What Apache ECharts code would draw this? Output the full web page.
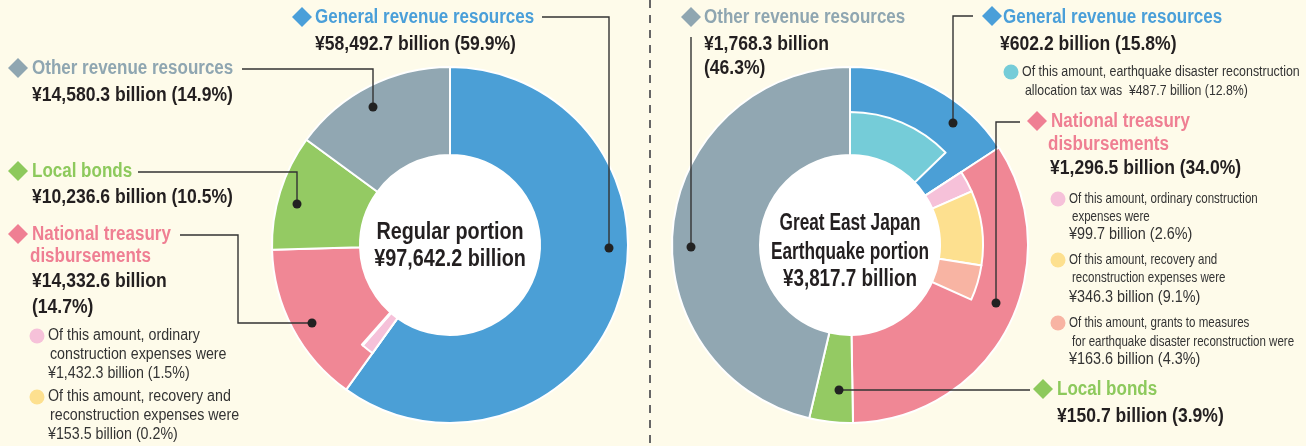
<!DOCTYPE html>
<html>
<head>
<meta charset="utf-8">
<script src="https://cdn.jsdelivr.net/npm/echarts@6/dist/echarts.min.js"></script>
<style>
  html, body { margin: 0; padding: 0; background: #fefbea; }
  #main { width: 1306px; height: 446px; }
</style>
</head>
<body>
<div id="main"></div>
<script>
// values in ¥ billion
const categories = ['General revenue resources', 'National treasury disbursements', 'Local bonds', 'Other revenue resources'];
const regularValues = [58492.7, 14332.6, 10236.6, 14580.3];
const regularSubNames = ['Ordinary construction expenses', 'Recovery and reconstruction expenses'];
const regularSubValues = [1432.3, 153.5];
const quakeValues = [602.2, 1296.5, 150.7, 1768.3];
const quakeAllocTax = 487.7;
const quakeSubNames = ['Ordinary construction expenses', 'Recovery and reconstruction expenses', 'Grants for earthquake disaster reconstruction'];
const quakeSubValues = [99.7, 346.3, 163.6];

const COL = { blue: '#4b9fd6', red: '#f08795', green: '#94ca63', grey: '#91a7b2',
  pink: '#f6c1d9', yellow: '#fde08f', salmon: '#f8b4a3', cyan: '#75ccd8' };
const mainColors = [COL.blue, COL.red, COL.green, COL.grey];
const TXT = { blue: '#4a9fd9', red: '#ef7f93', green: '#8dc95c', grey: '#8fa6b1' };
const FONT = "'Liberation Sans', Arial, sans-serif";

const sum = a => a.reduce((s, v) => s + v, 0);
const regTotal = sum(regularValues);
const quakeTotal = sum(quakeValues);
const yen = v => '¥' + v.toLocaleString('en-US', { minimumFractionDigits: 1, maximumFractionDigits: 1 });
const pct = (v, t) => '(' + (v / t * 100).toFixed(1) + '%)';
const full = (v, t) => yen(v) + ' billion ' + pct(v, t);

let myChart = echarts.init(document.getElementById('main'), null, { renderer: 'canvas' });

function ring(center, values) {
  return {
    type: 'pie', center: center, radius: [90, 178], silent: true, animation: false,
    label: { show: false }, labelLine: { show: false },
    itemStyle: { borderColor: '#fff', borderWidth: 2 },
    data: values.map((v, i) => ({ name: categories[i], value: v, itemStyle: { color: mainColors[i] } }))
  };
}
function inner(center, data) {
  return {
    type: 'pie', center: center, radius: [90, 133], silent: true, animation: false,
    label: { show: false }, labelLine: { show: false },
    data: data
  };
}
function hole(center) {
  return {
    type: 'pie', center: center, radius: [0, 90], silent: true, animation: false,
    label: { show: false }, labelLine: { show: false },
    data: [{ value: 1, itemStyle: { color: '#fff' } }]
  };
}
const blank = v => ({ value: v, itemStyle: { color: 'transparent', borderWidth: 0 } });
const piece = (name, v, c) => ({ name: name, value: v, itemStyle: { color: c, borderColor: '#fff', borderWidth: 2 } });

const regInner = [
  blank(regularValues[0]),
  piece(regularSubNames[0], regularSubValues[0], COL.pink),
  piece(regularSubNames[1], regularSubValues[1], COL.yellow),
  blank(regTotal - regularValues[0] - sum(regularSubValues))
];
const quakeInner = [
  piece('Earthquake disaster reconstruction allocation tax', quakeAllocTax, COL.cyan),
  blank(quakeValues[0] - quakeAllocTax),
  piece(quakeSubNames[0], quakeSubValues[0], COL.pink),
  piece(quakeSubNames[1], quakeSubValues[1], COL.yellow),
  piece(quakeSubNames[2], quakeSubValues[2], COL.salmon),
  blank(quakeTotal - quakeValues[0] - sum(quakeSubValues))
];

// annotation helpers (text is condensed with scaleX to look like the narrow original)
const g = [];
const STY = {
  title: { size: 20, sx: 0.85, weight: 'bold' },
  value: { size: 19.5, sx: 0.9, weight: 'bold' },
  center: { size: 23, sx: 0.86, weight: 'bold' },
  centerN: { size: 23, sx: 0.75, weight: 'bold' },
  centerV: { size: 23, sx: 0.82, weight: 'bold' },
  noteL: { size: 16, sx: 0.89, weight: 'normal' },
  noteR: { size: 15, sx: 0.77, weight: 'normal' },
  noteV: { size: 16, sx: 0.9, weight: 'normal' },
  noteC: { size: 15.5, sx: 0.8, weight: 'normal' },
  noteC2: { size: 15, sx: 0.82, weight: 'normal' }
};
function txt(x, y, text, kind, color, align) {
  const s = STY[kind];
  g.push({ type: 'text', x: x, y: y, scaleX: s.sx, z: 100, silent: true, style: {
    text: text, fill: color || '#231f20', font: s.weight + ' ' + s.size + 'px ' + FONT,
    textAlign: align || 'left', textVerticalAlign: 'middle' } });
}
function diamond(x, y, color) {
  g.push({ type: 'polygon', z: 100, silent: true, shape: { points: [[x, y - 10], [x + 10, y], [x, y + 10], [x - 10, y]] }, style: { fill: color } });
}
function bullet(x, y, color) {
  g.push({ type: 'circle', z: 100, silent: true, shape: { cx: x, cy: y, r: 7.5 }, style: { fill: color } });
}
function leader(points) {
  g.push({ type: 'polyline', z: 100, silent: true, shape: { points: points }, style: { stroke: '#333', lineWidth: 1.4, fill: null } });
  const p = points[points.length - 1];
  g.push({ type: 'circle', z: 101, silent: true, shape: { cx: p[0], cy: p[1], r: 4.5 }, style: { fill: '#222' } });
}
const NOTE = '#333';

// separator
g.push({ type: 'line', z: 100, silent: true, shape: { x1: 650, y1: 0, x2: 650, y2: 446 }, style: { stroke: '#666', lineWidth: 2, lineDash: [8, 7] } });

// ---- left: regular portion
diamond(302, 17, TXT.blue); txt(315, 17, categories[0], 'title', TXT.blue);
txt(315, 45, full(regularValues[0], regTotal), 'value');
leader([[542, 17], [609, 17], [609, 248]]);

diamond(18, 68, TXT.grey); txt(32, 68, categories[3], 'title', TXT.grey);
txt(32, 96, full(regularValues[3], regTotal), 'value');
leader([[242, 69], [373, 69], [373, 107]]);

diamond(18, 171, TXT.green); txt(32, 171, categories[2], 'title', TXT.green);
txt(32, 198, full(regularValues[2], regTotal), 'value');
leader([[138, 172], [297, 172], [297, 204]]);

diamond(18, 234, TXT.red); txt(32, 234, 'National treasury', 'title', TXT.red);
txt(30, 256, 'disbursements', 'title', TXT.red);
txt(32, 282, yen(regularValues[1]) + ' billion', 'value');
txt(32, 308, pct(regularValues[1], regTotal), 'value');
leader([[180, 235], [238, 235], [238, 323], [312, 323]]);

bullet(37, 336, COL.pink);
txt(48, 336, 'Of this amount, ordinary', 'noteL', NOTE);
txt(50, 355, 'construction expenses were', 'noteL', NOTE);
txt(48, 374, full(regularSubValues[0], regTotal), 'noteL', NOTE);
bullet(37, 397, COL.yellow);
txt(48, 397, 'Of this amount, recovery and', 'noteL', NOTE);
txt(50, 416, 'reconstruction expenses were', 'noteL', NOTE);
txt(48, 435, full(regularSubValues[1], regTotal), 'noteL', NOTE);

txt(450, 233, 'Regular portion', 'center', null, 'center');
txt(450, 260, yen(regTotal) + ' billion', 'center', null, 'center');

// ---- right: Great East Japan Earthquake portion
diamond(691, 17, TXT.grey); txt(704, 17, categories[3], 'title', TXT.grey);
txt(704, 45, yen(quakeValues[3]) + ' billion', 'value');
txt(704, 69, pct(quakeValues[3], quakeTotal), 'value');
leader([[691, 37], [691, 247]]);

diamond(992, 16, TXT.blue); txt(1003, 17, categories[0], 'title', TXT.blue);
txt(1000, 45, full(quakeValues[0], quakeTotal), 'value');
leader([[973, 16], [953, 16], [953, 123]]);
bullet(1011, 72, COL.cyan);
txt(1022, 72, 'Of this amount, earthquake disaster reconstruction', 'noteC', NOTE);
txt(1025, 91, 'allocation tax was  ' + full(quakeAllocTax, quakeTotal), 'noteC2', NOTE);

diamond(1037, 121, TXT.red); txt(1051, 121, 'National treasury', 'title', TXT.red);
txt(1048, 144, 'disbursements', 'title', TXT.red);
txt(1050, 169, full(quakeValues[1], quakeTotal), 'value');
leader([[1020, 122], [996, 122], [996, 303]]);

bullet(1058, 199, COL.pink);
txt(1069, 199, 'Of this amount, ordinary construction', 'noteR', NOTE);
txt(1072, 217, 'expenses were', 'noteR', NOTE);
txt(1069, 235, full(quakeSubValues[0], quakeTotal), 'noteV', NOTE);
bullet(1058, 260, COL.yellow);
txt(1069, 260, 'Of this amount, recovery and', 'noteR', NOTE);
txt(1072, 278, 'reconstruction expenses were', 'noteR', NOTE);
txt(1069, 298, full(quakeSubValues[1], quakeTotal), 'noteV', NOTE);
bullet(1058, 323, COL.salmon);
txt(1069, 323, 'Of this amount, grants to measures', 'noteR', NOTE);
txt(1072, 342, 'for earthquake disaster reconstruction were', 'noteR', NOTE);
txt(1069, 360, full(quakeSubValues[2], quakeTotal), 'noteV', NOTE);

diamond(1043, 389, TXT.green); txt(1057, 389, categories[2], 'title', TXT.green);
txt(1057, 417, full(quakeValues[2], quakeTotal), 'value');
leader([[1030, 390], [839, 390]]);

txt(850, 224, 'Great East Japan', 'centerN', null, 'center');
txt(850, 253, 'Earthquake portion', 'centerN', null, 'center');
txt(850, 280, yen(quakeTotal) + ' billion', 'centerV', null, 'center');

let option = {
  backgroundColor: '#fefbea',
  animation: false,
  series: [
    ring([450, 245], regularValues), inner([450, 245], regInner), hole([450, 245]),
    ring([850, 245], quakeValues), inner([850, 245], quakeInner), hole([850, 245])
  ],
  graphic: g
};
myChart.setOption(option);
</script>
</body>
</html>
